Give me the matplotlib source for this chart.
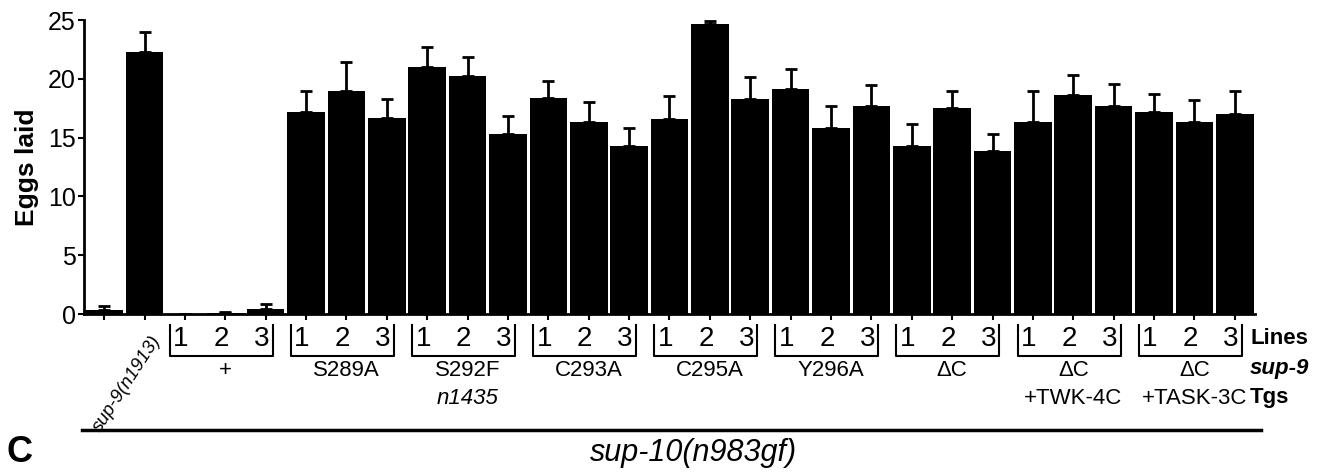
import matplotlib
matplotlib.use("Agg")
import matplotlib.pyplot as plt
from matplotlib import transforms

plt.rcParams['font.family'] = ['Liberation Sans', 'DejaVu Sans']

# mean eggs laid per strain
means = [0.3, 22.25,
         0.0, 0.1, 0.45,
         17.2, 19.0, 16.7,
         21.0, 20.2, 15.3,
         18.4, 16.35, 14.3,
         16.55, 24.7, 18.25,
         19.1, 15.85, 17.7,
         14.3, 17.55, 13.9,
         16.35, 18.6, 17.7,
         17.2, 16.35, 17.0]
errs = [0.35, 1.7,
        0.0, 0.1, 0.4,
        1.75, 2.4, 1.55,
        1.7, 1.65, 1.5,
        1.4, 1.7, 1.5,
        2.0, 0.25, 1.9,
        1.7, 1.85, 1.75,
        1.85, 1.4, 1.4,
        2.6, 1.7, 1.9,
        1.55, 1.85, 1.95]

groups = ['+', 'S289A', 'S292F', 'C293A', 'C295A', 'Y296A',
          '\u0394C', '\u0394C', '\u0394C']
groups2 = ['', '', 'n1435', '', '', '', '', '+TWK-4C', '+TASK-3C']
lines_lab = ['1', '2', '3']

fig = plt.figure(figsize=(13.29, 4.72), dpi=100)
ax = fig.add_axes([0.0632, 0.3347, 0.9443 - 0.0632, 0.9576 - 0.3347])

x = list(range(len(means)))
ax.bar(x, means, width=0.93, color='black', edgecolor='black', linewidth=0)
ax.errorbar(x, means, yerr=[[0] * len(errs), errs], fmt='none', ecolor='black',
            elinewidth=2, capsize=4, capthick=2)

ax.set_xlim(-0.5, len(means) - 0.5)
ax.set_ylim(0, 25)
ax.set_yticks([0, 5, 10, 15, 20, 25])
ax.tick_params(axis='y', labelsize=18, width=1.5, length=4, pad=2)
ax.set_xticks(x)
ax.set_xticklabels([])
ax.tick_params(axis='x', width=1.5, length=4)
for s in ['top', 'right']:
    ax.spines[s].set_visible(False)
for s in ['left', 'bottom']:
    ax.spines[s].set_linewidth(2)
ax.set_ylabel('Eggs laid', fontsize=19, fontweight='bold', labelpad=6)

tr = transforms.blended_transform_factory(ax.transData, fig.transFigure)

# rotated control label
ax.text(1.15, 0.295, 'sup-9(n1913)', transform=tr, rotation=57,
        rotation_mode='anchor', ha='right', va='top', fontsize=13.5, style='italic')

for g in range(len(groups)):
    first = 2 + 3 * g
    for k in range(3):
        ax.text(first + k - 0.1, 0.282, lines_lab[k], transform=tr,
                ha='center', va='center', fontsize=20)
    xl = first - 0.38
    xr = first + 2 + 0.17
    ax.plot([xl, xl, xr, xr], [0.311, 0.246, 0.246, 0.311], transform=tr,
            color='black', lw=1.5, clip_on=False)
    mid = first + 1
    ax.text(mid, 0.214, groups[g], transform=tr, ha='center', va='center', fontsize=16)
    if groups2[g]:
        st = 'italic' if groups2[g] == 'n1435' else 'normal'
        ax.text(mid, 0.156, groups2[g], transform=tr, ha='center', va='center',
                fontsize=16, style=st)

fig.text(0.9406, 0.282, 'Lines', ha='left', va='center', fontsize=16, fontweight='bold')
fig.text(0.9406, 0.220, 'sup-9', ha='left', va='center', fontsize=16,
         fontweight='bold', style='italic')
fig.text(0.9406, 0.157, 'Tgs', ha='left', va='center', fontsize=16, fontweight='bold')

fig.add_artist(plt.Line2D([82 / 1329, 1261 / 1329], [0.089, 0.089],
                          color='black', lw=2.5))
fig.text(693 / 1329, 0.040, 'sup-10(n983gf)', ha='center', va='center',
         fontsize=22, style='italic')
fig.text(0.005, 0.004, 'C', ha='left', va='bottom', fontsize=26, fontweight='bold')

fig.savefig('out.png', dpi=100)
